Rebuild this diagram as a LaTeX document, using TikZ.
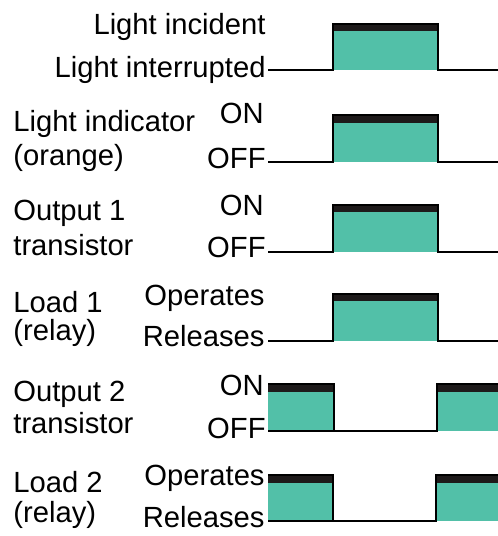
\documentclass[tikz,border=0pt]{standalone}
\usepackage{fontspec}
\setmainfont{Liberation Sans}
\usepackage{xcolor}
\usepackage{tikz}
\definecolor{pulsefill}{RGB}{82,192,168}
\definecolor{pulsetop}{RGB}{30,26,26}

\begin{document}
\begin{tikzpicture}[x=0.5pt, y=-0.5pt,
        lbl/.style={inner sep=0pt, font=\fontsize{14.6}{17}\selectfont},
        rlbl/.style={lbl, anchor=base east},
        llbl/.style={lbl, anchor=base west},
        wave/.style={line width=1pt, line join=miter},
        pulse/.style={fill=pulsefill},
        bar/.style={fill=pulsetop}]
        \useasboundingbox (0,0) rectangle (498,536);

        % labels on the left
        \draw (13,131) node[llbl](ind){Light indicator};
        \draw (13,165) node[llbl](orange){(orange)};
        \draw (13,220) node[llbl](out1){Output 1};
        \draw (13,255) node[llbl](tr1){transistor};
        \draw (13,312) node[llbl](load1){Load 1};
        \draw (13,340) node[llbl](rel1){(relay)};
        \draw (13,401) node[llbl](out2){Output 2};
        \draw (13,433) node[llbl](tr2){transistor};
        \draw (13,492) node[llbl](load2){Load 2};
        \draw (13,522) node[llbl](rel2){(relay)};

        % levels
        \draw (266,34) node[rlbl](inc){Light incident};
        \draw (266,77) node[rlbl](intr){Light interrupted};
        \draw (264,123) node[rlbl](on1){ON};
        \draw (266,168) node[rlbl](off1){OFF};
        \draw (264,215) node[rlbl](on2){ON};
        \draw (266,257) node[rlbl](off2){OFF};
        \draw (265,305) node[rlbl](op1){Operates};
        \draw (265,346) node[rlbl](re1){Releases};
        \draw (264,395) node[rlbl](on3){ON};
        \draw (266,438) node[rlbl](off3){OFF};
        \draw (265,485) node[rlbl](op2){Operates};
        \draw (265,527) node[rlbl](re2){Releases};

        % start and end of each trace
        \coordinate (s1) at (268,70);  \coordinate (e1) at (498,70);
        \coordinate (s2) at (268,162); \coordinate (e2) at (498,162);
        \coordinate (s3) at (268,252); \coordinate (e3) at (498,252);
        \coordinate (s4) at (268,341); \coordinate (e4) at (498,341);
        \coordinate (s5) at (268,431); \coordinate (e5) at (498,431);
        \coordinate (s6) at (268,521); \coordinate (e6) at (498,521);

        % single pulse rows
        \fill[pulse] (333,70) rectangle (438,24);   \fill[bar] (333,24) rectangle (438,31);
        \fill[pulse] (333,162) rectangle (438,115); \fill[bar] (333,115) rectangle (438,123);
        \fill[pulse] (333,252) rectangle (438,205); \fill[bar] (333,205) rectangle (438,212);
        \fill[pulse] (333,341) rectangle (438,294); \fill[bar] (333,294) rectangle (438,301);
        \draw[wave] (s1) -- (333,70) |- (438,24) -- (438,70) -- (e1);
        \draw[wave] (s2) -- (333,162) |- (438,115) -- (438,162) -- (e2);
        \draw[wave] (s3) -- (333,252) |- (438,205) -- (438,252) -- (e3);
        \draw[wave] (s4) -- (333,341) |- (438,294) -- (438,341) -- (e4);

        % inverted rows
        \fill[pulse] (s5) rectangle (334,384); \fill[bar] (268,384) rectangle (334,392);
        \fill[pulse] (437,431) rectangle (498,384); \fill[bar] (437,384) rectangle (498,392);
        \fill[pulse] (s6) rectangle (333,475); \fill[bar] (268,475) rectangle (333,483);
        \fill[pulse] (436,521) rectangle (498,475); \fill[bar] (436,475) rectangle (498,483);
        \draw[wave] (268,384) -- (334,384) -- (334,431) -- (437,431) |- (e5 |- 0,384);
        \draw[wave] (s5) -- (334,431);
        \draw[wave] (268,475) -- (333,475) -- (333,521) -- (436,521) |- (e6 |- 0,475);
        \draw[wave] (s6) -- (333,521);
    \end{tikzpicture}
\end{document}
